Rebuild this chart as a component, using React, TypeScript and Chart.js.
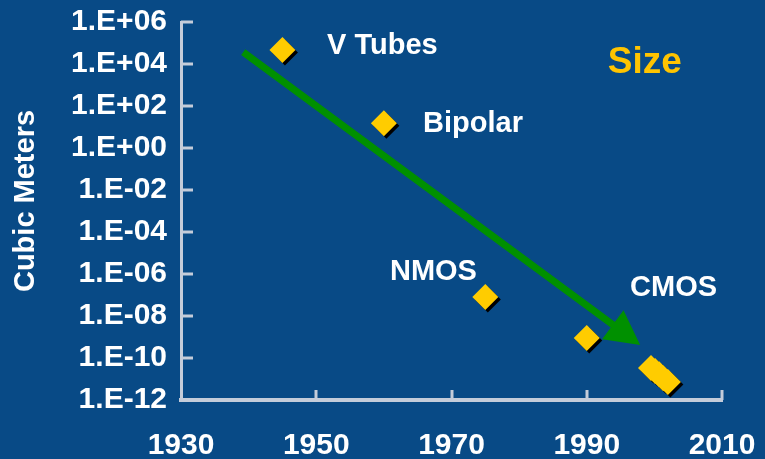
import React, { useEffect, useRef } from 'react';
import { Chart, registerables } from 'chart.js';

Chart.register(...registerables);

// ---- data ----
const techYears = [1945, 1960, 1975, 1990, 1999.5, 2000.1, 2000.7, 2001.3, 2002];
const techVolumes = [4.6e4, 15, 8e-8, 9e-10, 3.3e-11, 2.4e-11, 1.7e-11, 1.1e-11, 7.2e-12];

const yTickValues = [1e-12, 1e-10, 1e-8, 1e-6, 1e-4, 1e-2, 1, 1e2, 1e4, 1e6];
const xTickYears = [1930, 1950, 1970, 1990, 2010];

const trendYears = [1939.2, 1997.9];
const trendVolumes = [3.7e4, 4.2e-10];

const labelTexts = ['V Tubes', 'Bipolar', 'NMOS', 'CMOS'];
const labelYears = [1951.6, 1965.8, 1960.9, 1996.4];
const labelVolumes = [7.2e4, 13.9, 1.24e-6, 2.15e-7];

const headlineText = 'Size';
const headlineYear = 1993.1;
const headlineVolume = 1.17e4;

const yTitle = 'Cubic Meters';

// ---- styles ----
const BG = '#084a86';
const AXIS = '#c4ccda';
const GOLD = '#ffcc00';
const GREEN = '#009000';
const FONT = "'Liberation Sans', Arial, sans-serif";

function fmtSci(v: number): string {
  const e = Math.round(Math.log10(v));
  return '1.E' + (e < 0 ? '-' : '+') + String(Math.abs(e)).padStart(2, '0');
}

function zeroPad(s: any) {
  s.paddingLeft = 0;
  s.paddingRight = 0;
  s.paddingTop = 0;
  s.paddingBottom = 0;
}

function diamond(ctx: any, x: number, y: number, r: number) {
  ctx.beginPath();
  ctx.moveTo(x, y - r);
  ctx.lineTo(x + r, y);
  ctx.lineTo(x, y + r);
  ctx.lineTo(x - r, y);
  ctx.closePath();
  ctx.fill();
}

const decorPlugin = {
  id: 'decor',
  beforeDatasetsDraw(chart: any) {
    const ctx = chart.ctx;
    const xs = chart.scales.x;
    const ys = chart.scales.y;
    const area = chart.chartArea;
    ctx.save();
    // inner tick marks
    ctx.strokeStyle = AXIS;
    ctx.lineWidth = 3;
    for (const v of yTickValues) {
      const py = Math.round(ys.getPixelForValue(v));
      ctx.beginPath();
      ctx.moveTo(area.left, py);
      ctx.lineTo(area.left + 12, py);
      ctx.stroke();
    }
    for (const yr of xTickYears.slice(1)) {
      const px = Math.round(xs.getPixelForValue(yr));
      ctx.beginPath();
      ctx.moveTo(px, area.bottom);
      ctx.lineTo(px, area.bottom - 10);
      ctx.stroke();
    }
    // trend arrow
    const x0 = xs.getPixelForValue(trendYears[0]);
    const y0 = ys.getPixelForValue(trendVolumes[0]);
    const x1 = xs.getPixelForValue(trendYears[1]);
    const y1 = ys.getPixelForValue(trendVolumes[1]);
    const dx = x1 - x0, dy = y1 - y0;
    const len = Math.hypot(dx, dy);
    const ux = dx / len, uy = dy / len;
    const headLen = 34, headHalf = 18;
    const bx = x1 - ux * headLen, by = y1 - uy * headLen;
    ctx.strokeStyle = GREEN;
    ctx.fillStyle = GREEN;
    ctx.lineWidth = 7;
    ctx.lineCap = 'butt';
    ctx.beginPath();
    ctx.moveTo(x0, y0);
    ctx.lineTo(bx + ux * 2, by + uy * 2);
    ctx.stroke();
    ctx.beginPath();
    ctx.moveTo(x1, y1);
    ctx.lineTo(bx - uy * headHalf, by + ux * headHalf);
    ctx.lineTo(bx + uy * headHalf, by - ux * headHalf);
    ctx.closePath();
    ctx.fill();
    // drop shadows of the markers (from the library's point elements)
    const meta = chart.getDatasetMeta(0);
    ctx.fillStyle = '#000000';
    for (const el of meta.data) {
      diamond(ctx, el.x + 2.5, el.y + 2.5, 13);
    }
    ctx.restore();
  },
  afterDraw(chart: any) {
    const ctx = chart.ctx;
    const xs = chart.scales.x;
    const ys = chart.scales.y;
    const area = chart.chartArea;
    ctx.save();
    ctx.textAlign = 'left';
    ctx.textBaseline = 'middle';
    ctx.fillStyle = '#ffffff';
    ctx.font = `bold 29px ${FONT}`;
    labelTexts.forEach((t, i) => {
      ctx.fillText(t, xs.getPixelForValue(labelYears[i]), ys.getPixelForValue(labelVolumes[i]));
    });
    ctx.fillStyle = '#ffc400';
    ctx.font = `bold 37px ${FONT}`;
    ctx.fillText(headlineText, xs.getPixelForValue(headlineYear), ys.getPixelForValue(headlineVolume));
    // y-axis title
    ctx.translate(25.5, (area.top + area.bottom) / 2 - 10);
    ctx.rotate(-Math.PI / 2);
    ctx.textAlign = 'center';
    ctx.fillStyle = '#ffffff';
    ctx.font = `bold 29px ${FONT}`;
    ctx.fillText(yTitle, 0, 0);
    ctx.restore();
  },
};

export default function App() {
  const ref = useRef<HTMLCanvasElement | null>(null);

  useEffect(() => {
    if (!ref.current) return;
    const chart = new Chart(ref.current, {
      type: 'scatter',
      data: {
        datasets: [
          {
            data: techYears.map((x, i) => ({ x, y: techVolumes[i] })),
            pointStyle: 'rectRot',
            pointRadius: 13,
            pointHoverRadius: 13,
            backgroundColor: GOLD,
            borderWidth: 0,
            showLine: false,
          },
        ],
      },
      options: {
        responsive: false,
        animation: false,
        devicePixelRatio: 1,
        events: [],
        layout: { padding: { top: 22, right: 43, left: 0, bottom: 0 } },
        plugins: {
          legend: { display: false },
          tooltip: { enabled: false },
          title: { display: false },
        },
        scales: {
          x: {
            type: 'linear',
            min: 1930,
            max: 2010,
            afterBuildTicks: (s: any) => {
              s.ticks = xTickYears.map((v) => ({ value: v }));
            },
            afterFit: (s: any) => {
              s.height = 59;
              zeroPad(s);
            },
            grid: { display: false, tickLength: 0 },
            border: { display: true, color: AXIS, width: 4 },
            ticks: {
              color: '#ffffff',
              padding: 28,
              maxRotation: 0,
              autoSkip: false,
              font: { family: FONT, size: 30, weight: 'bold' },
              callback: (v: any) => String(v),
            },
          },
          y: {
            type: 'logarithmic',
            min: 1e-12,
            max: 1e6,
            afterBuildTicks: (s: any) => {
              s.ticks = yTickValues.map((v) => ({ value: v }));
            },
            afterFit: (s: any) => {
              s.width = 181;
              zeroPad(s);
            },
            grid: { display: false, tickLength: 0 },
            border: { display: true, color: AXIS, width: 3 },
            ticks: {
              color: '#ffffff',
              padding: 14,
              autoSkip: false,
              font: { family: FONT, size: 30, weight: 'bold' },
              callback: (v: any) => fmtSci(Number(v)),
            },
            title: { display: false },
          },
        },
      },
      plugins: [decorPlugin],
    } as any);
    return () => chart.destroy();
  }, []);

  return (
    <div
      style={{
        position: 'fixed',
        left: 0,
        top: 0,
        width: 765,
        height: 459,
        background: BG,
      }}
    >
      <canvas ref={ref} width={765} height={459} style={{ width: 765, height: 459, display: 'block' }} />
    </div>
  );
}
